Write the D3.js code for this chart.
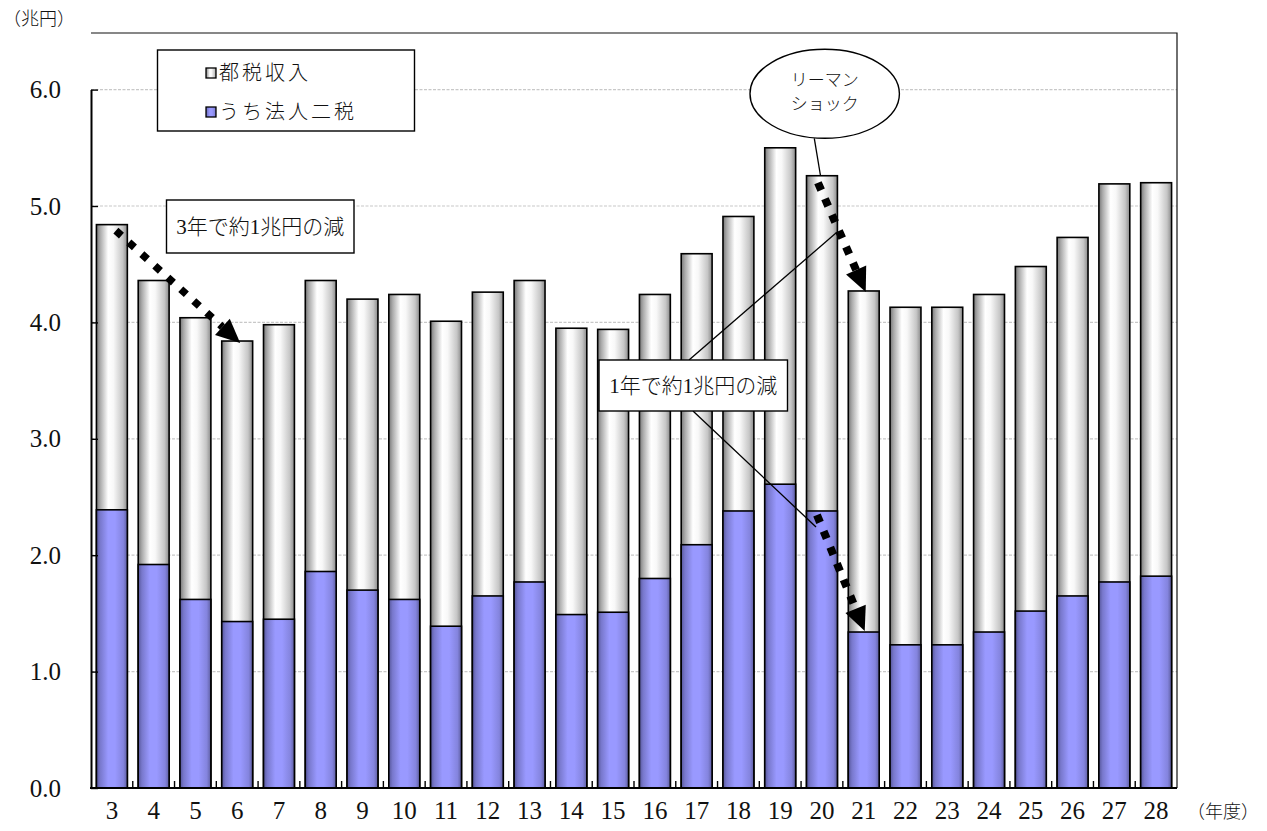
<!DOCTYPE html>
<html>
<head>
<meta charset="utf-8">
<script src="https://cdn.jsdelivr.net/npm/d3@7"></script>
<style>
  html, body { margin: 0; padding: 0; background: #fff; }
  svg { display: block; }
</style>
</head>
<body>
<svg id="chart" width="1267" height="831"></svg>
<script>
// Fiscal years (Heisei) on the category axis
const categories = ["3","4","5","6","7","8","9","10","11","12","13","14","15",
                    "16","17","18","19","20","21","22","23","24","25","26","27","28"];
// Total metropolitan tax revenue (trillion yen)
const totalTax = [4.84,4.36,4.04,3.84,3.98,4.36,4.20,4.24,4.01,4.26,4.36,3.95,3.94,
                  4.24,4.59,4.91,5.50,5.26,4.27,4.13,4.13,4.24,4.48,4.73,5.19,5.20];
// Of which: the two corporate taxes (trillion yen)
const corpTax = [2.39,1.92,1.62,1.43,1.45,1.86,1.70,1.62,1.39,1.65,1.77,1.49,1.51,
                 1.80,2.09,2.38,2.61,2.38,1.34,1.23,1.23,1.34,1.52,1.65,1.77,1.82];
const yTicks = [0,1,2,3,4,5,6];
const seriesNames = ["都税収入", "うち法人二税"];

const SERIF = "Liberation Serif";
const MIXED = "'Liberation Serif', 'Noto Sans CJK JP'";

const svg = d3.select("#chart");
const plot = { left: 91, right: 1177, top: 33, bottom: 788 };

const x = d3.scaleBand().domain(categories)
  .range([plot.left, plot.right]).paddingInner(0.26).paddingOuter(0.13);
const y = d3.scaleLinear().domain([0, 6]).range([plot.bottom, 89.6]);

// Gradients for the cylinder-like bars
const defs = svg.append("defs");
function grad(id, stops) {
  const g = defs.append("linearGradient").attr("id", id)
    .attr("x1", "0%").attr("x2", "100%").attr("y1", "0%").attr("y2", "0%");
  stops.forEach(([o, c]) => g.append("stop").attr("offset", o).attr("stop-color", c));
}
grad("gGray", [[0, "#777"], [0.12, "#aaa"], [0.38, "#fff"], [0.55, "#f8f8f8"], [0.85, "#c6c6c6"], [1, "#8a8a8a"]]);
grad("gBlue", [[0, "#56569a"], [0.12, "#7878cc"], [0.38, "#9999ff"], [0.6, "#9999ff"], [0.87, "#8484de"], [1, "#5e5ea0"]]);

function label(sel, size, family, weight) {
  return sel.style("font-family", family).style("font-size", size + "px")
    .style("font-weight", weight || 400).style("fill", "#111");
}

// Horizontal dashed gridlines
svg.append("g").selectAll("line").data(yTicks.filter(d => d > 0)).join("line")
  .attr("x1", plot.left).attr("x2", plot.right)
  .attr("y1", d => y(d)).attr("y2", d => y(d))
  .attr("stroke", "#c8c8c8").attr("stroke-width", 1.2).attr("stroke-dasharray", "3,1.5");

// Plot frame (top and right)
svg.append("path")
  .attr("d", `M${plot.left},${plot.top}H${plot.right}V${plot.bottom}`)
  .attr("fill", "none").attr("stroke", "#111").attr("stroke-width", 1.2);

// Total bars
svg.append("g").selectAll("rect").data(categories).join("rect")
  .attr("x", d => x(d)).attr("width", x.bandwidth())
  .attr("y", (d, i) => y(totalTax[i]))
  .attr("height", (d, i) => y(0) - y(totalTax[i]))
  .attr("fill", "url(#gGray)").attr("stroke", "#000").attr("stroke-width", 1.6);

// Corporate tax bars
svg.append("g").selectAll("rect").data(categories).join("rect")
  .attr("x", d => x(d)).attr("width", x.bandwidth())
  .attr("y", (d, i) => y(corpTax[i]))
  .attr("height", (d, i) => y(0) - y(corpTax[i]))
  .attr("fill", "url(#gBlue)").attr("stroke", "#000").attr("stroke-width", 1.6);

// Y axis line and inner ticks
const yAxis = svg.append("g").attr("transform", `translate(${plot.left},0)`)
  .call(d3.axisLeft(y).tickValues(yTicks).tickFormat("").tickSizeInner(-7).tickSizeOuter(0));
yAxis.select(".domain").attr("stroke", "#000").attr("stroke-width", 2);
yAxis.selectAll(".tick line").attr("stroke", "#000").attr("stroke-width", 1.4);
yAxis.selectAll(".tick text").remove();

// Y tick labels
label(svg.append("g").selectAll("text").data(yTicks).join("text")
  .attr("x", plot.left - 30).attr("y", d => y(d) + 8.5)
  .attr("text-anchor", "end").text(d3.format(".1f")), 25, SERIF);

// X axis baseline, inner ticks between categories, labels
svg.append("line").attr("x1", plot.left - 1).attr("x2", plot.right)
  .attr("y1", y(0)).attr("y2", y(0)).attr("stroke", "#000").attr("stroke-width", 2);
const step = x.step();
svg.append("g").selectAll("line").data(categories.slice(1)).join("line")
  .attr("x1", d => x(d) - step * x.paddingInner() / 2)
  .attr("x2", d => x(d) - step * x.paddingInner() / 2)
  .attr("y1", y(0)).attr("y2", y(0) - 7)
  .attr("stroke", "#000").attr("stroke-width", 1.4);
label(svg.append("g").selectAll("text").data(categories).join("text")
  .attr("x", d => x(d) + x.bandwidth() / 2).attr("y", 819)
  .attr("text-anchor", "middle").text(d => d), 25, SERIF);

// Unit labels
label(svg.append("text").attr("x", 3).attr("y", 25).text("（兆円）"), 18, MIXED, 300);
label(svg.append("text").attr("x", 1187).attr("y", 818).text("（年度）"), 18, MIXED, 300);

// Legend
svg.append("rect").attr("x", 157.5).attr("y", 50).attr("width", 257).attr("height", 81)
  .attr("fill", "#fff").attr("stroke", "#000").attr("stroke-width", 1.4);
const legendFills = ["url(#gGray)", "url(#gBlue)"];
seriesNames.forEach((name, i) => {
  const cy = 73 + i * 39;
  svg.append("rect").attr("x", 206).attr("y", cy - 5).attr("width", 10).attr("height", 10)
    .attr("fill", legendFills[i]).attr("stroke", "#000").attr("stroke-width", 1.3);
  label(svg.append("text").attr("x", 219).attr("y", cy + 7)
    .attr("letter-spacing", 3).text(name), 20, MIXED, 300);
});

// Annotation helpers
function textBox(x0, y0, w, h, txt) {
  svg.append("rect").attr("x", x0).attr("y", y0).attr("width", w).attr("height", h)
    .attr("fill", "#fff").attr("stroke", "#000").attr("stroke-width", 1.4);
  label(svg.append("text").attr("x", x0 + w / 2).attr("y", y0 + h / 2 + 7)
    .attr("text-anchor", "middle").text(txt), 21, MIXED, 300);
}
function dottedArrow(x1, y1, x2, y2, width) {
  const dx = x2 - x1, dy = y2 - y1, len = Math.hypot(dx, dy);
  const ux = dx / len, uy = dy / len, head = 24, half = 11;
  const bx = x2 - ux * head, by = y2 - uy * head;
  svg.append("line").attr("x1", x1).attr("y1", y1).attr("x2", bx).attr("y2", by)
    .attr("stroke", "#000").attr("stroke-width", width).attr("stroke-dasharray", `${width},${17.5 - width}`);
  svg.append("path")
    .attr("d", `M${x2},${y2}L${bx - uy * half},${by + ux * half}L${bx + uy * half},${by - ux * half}Z`)
    .attr("fill", "#000");
}
function thinLine(x1, y1, x2, y2) {
  svg.append("line").attr("x1", x1).attr("y1", y1).attr("x2", x2).attr("y2", y2)
    .attr("stroke", "#000").attr("stroke-width", 1.3);
}
const cx = c => x(c) + x.bandwidth() / 2;
const idx = c => categories.indexOf(c);

// 3-year decline, FY3 to FY6
dottedArrow(cx("3") + 4, y(totalTax[idx("3")]) + 6, cx("6") + 3, y(totalTax[idx("6")]) + 2, 7.5);
textBox(166.5, 200, 187.5, 53, "3年で約1兆円の減");

// Lehman shock, FY20 to FY21
dottedArrow(cx("20") - 4, y(totalTax[idx("20")]) + 7, cx("21") + 2, y(totalTax[idx("21")]) + 1, 8);
dottedArrow(cx("20") - 5, y(corpTax[idx("20")]) + 4, cx("21") + 1, y(corpTax[idx("21")]) - 1, 8);
thinLine(814.3, 138.3, 820.5, y(totalTax[idx("20")]));
svg.append("ellipse").attr("cx", 824.7).attr("cy", 93.8).attr("rx", 74.7).attr("ry", 44.5)
  .attr("fill", "#fff").attr("stroke", "#000").attr("stroke-width", 1.4);
label(svg.append("text").attr("x", 824.7).attr("y", 86).attr("text-anchor", "middle")
  .text("リーマン"), 17, MIXED, 300);
label(svg.append("text").attr("x", 824.7).attr("y", 110).attr("text-anchor", "middle")
  .text("ショック"), 17, MIXED, 300);

// 1-year decline callout
thinLine(689, 360, 836, 233);
thinLine(693, 411, 816, 527);
textBox(599, 360, 188.5, 51, "1年で約1兆円の減");
</script>
</body>
</html>
